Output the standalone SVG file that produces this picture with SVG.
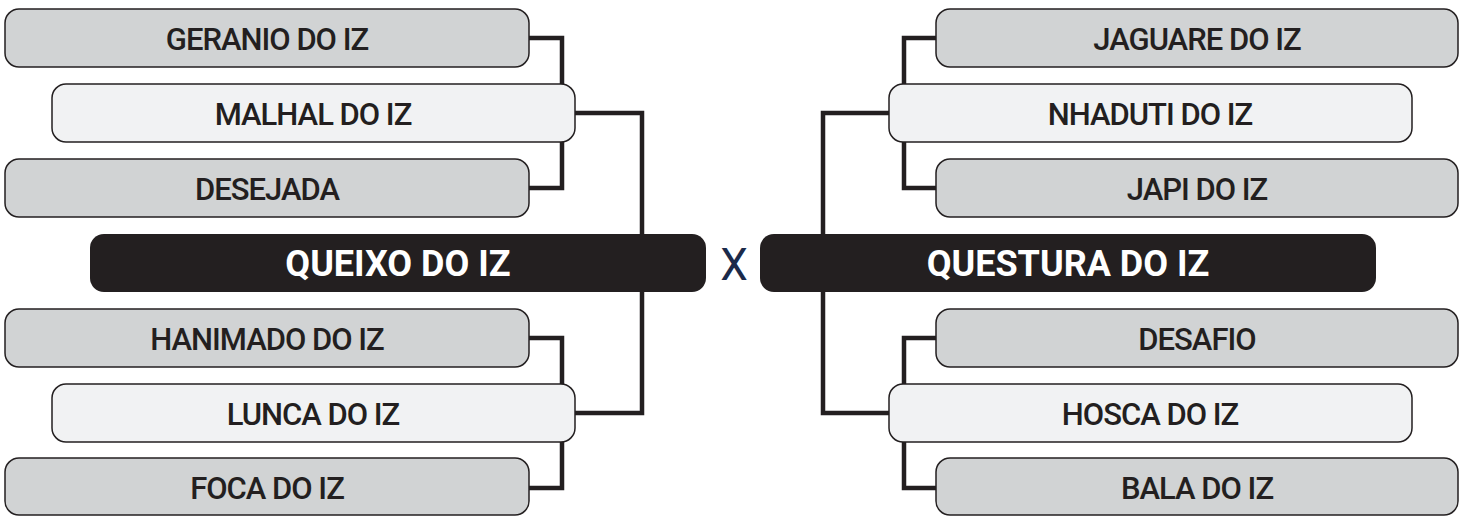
<svg xmlns="http://www.w3.org/2000/svg" width="1467" height="516" viewBox="0 0 1467 516">
<style>
.outer{fill:#d1d3d4;stroke:#231f20;stroke-width:1.5}
.mid{fill:#f1f2f3;stroke:#231f20;stroke-width:1.5}
.main{fill:#231f20}
.lbl{font-family:Roboto,"Liberation Sans",sans-serif;font-weight:500;font-size:31px;letter-spacing:-1px;fill:#231f20;text-anchor:middle}
.big{font-family:Roboto,"Liberation Sans",sans-serif;font-weight:700;font-size:36px;fill:#ffffff;text-anchor:middle}
.vs{font-family:Roboto,"Liberation Sans",sans-serif;font-weight:400;font-size:44px;fill:#1b2a4a;text-anchor:middle}
.conn{fill:none;stroke:#231f20;stroke-width:4.5;stroke-linejoin:miter}
</style>
<g id="connectors">
<path class="conn" d="M528,38 H562 V188 H528"/>
<path class="conn" d="M574,113 H642 V413 H574"/>
<path class="conn" d="M528,338 H562 V488 H528"/>
<path class="conn" d="M937,38 H904 V188 H937"/>
<path class="conn" d="M890,113 H823 V413 H890"/>
<path class="conn" d="M937,338 H904 V488 H937"/>
</g>
<g id="geranio"><rect class="outer" x="5" y="9" width="524" height="58" rx="14"/><text class="lbl" x="267" y="50">GERANIO DO IZ</text></g>
<g id="malhal"><rect class="mid" x="52" y="84" width="523" height="58" rx="14"/><text class="lbl" x="313" y="125">MALHAL DO IZ</text></g>
<g id="desejada"><rect class="outer" x="5" y="159" width="524" height="58" rx="14"/><text class="lbl" x="267" y="200">DESEJADA</text></g>
<g id="queixo"><rect class="main" x="90" y="234" width="616" height="58" rx="14"/><text class="big" x="398" y="276">QUEIXO DO IZ</text></g>
<g id="hanimado"><rect class="outer" x="5" y="309" width="524" height="58" rx="14"/><text class="lbl" x="267" y="350">HANIMADO DO IZ</text></g>
<g id="lunca"><rect class="mid" x="52" y="384" width="523" height="58" rx="14"/><text class="lbl" x="313" y="425">LUNCA DO IZ</text></g>
<g id="foca"><rect class="outer" x="5" y="458" width="524" height="57" rx="14"/><text class="lbl" x="267" y="499">FOCA DO IZ</text></g>
<g id="vs"><text class="vs" x="734" y="280">X</text></g>
<g id="jaguare"><rect class="outer" x="936" y="9" width="522" height="58" rx="14"/><text class="lbl" x="1197" y="50">JAGUARE DO IZ</text></g>
<g id="nhaduti"><rect class="mid" x="889" y="84" width="523" height="58" rx="14"/><text class="lbl" x="1150" y="125">NHADUTI DO IZ</text></g>
<g id="japi"><rect class="outer" x="936" y="159" width="522" height="58" rx="14"/><text class="lbl" x="1197" y="200">JAPI DO IZ</text></g>
<g id="questura"><rect class="main" x="760" y="234" width="616" height="58" rx="14"/><text class="big" x="1068" y="276">QUESTURA DO IZ</text></g>
<g id="desafio"><rect class="outer" x="936" y="309" width="522" height="58" rx="14"/><text class="lbl" x="1197" y="350">DESAFIO</text></g>
<g id="hosca"><rect class="mid" x="889" y="384" width="523" height="58" rx="14"/><text class="lbl" x="1150" y="425">HOSCA DO IZ</text></g>
<g id="bala"><rect class="outer" x="936" y="458" width="522" height="57" rx="14"/><text class="lbl" x="1197" y="499">BALA DO IZ</text></g>
</svg>
